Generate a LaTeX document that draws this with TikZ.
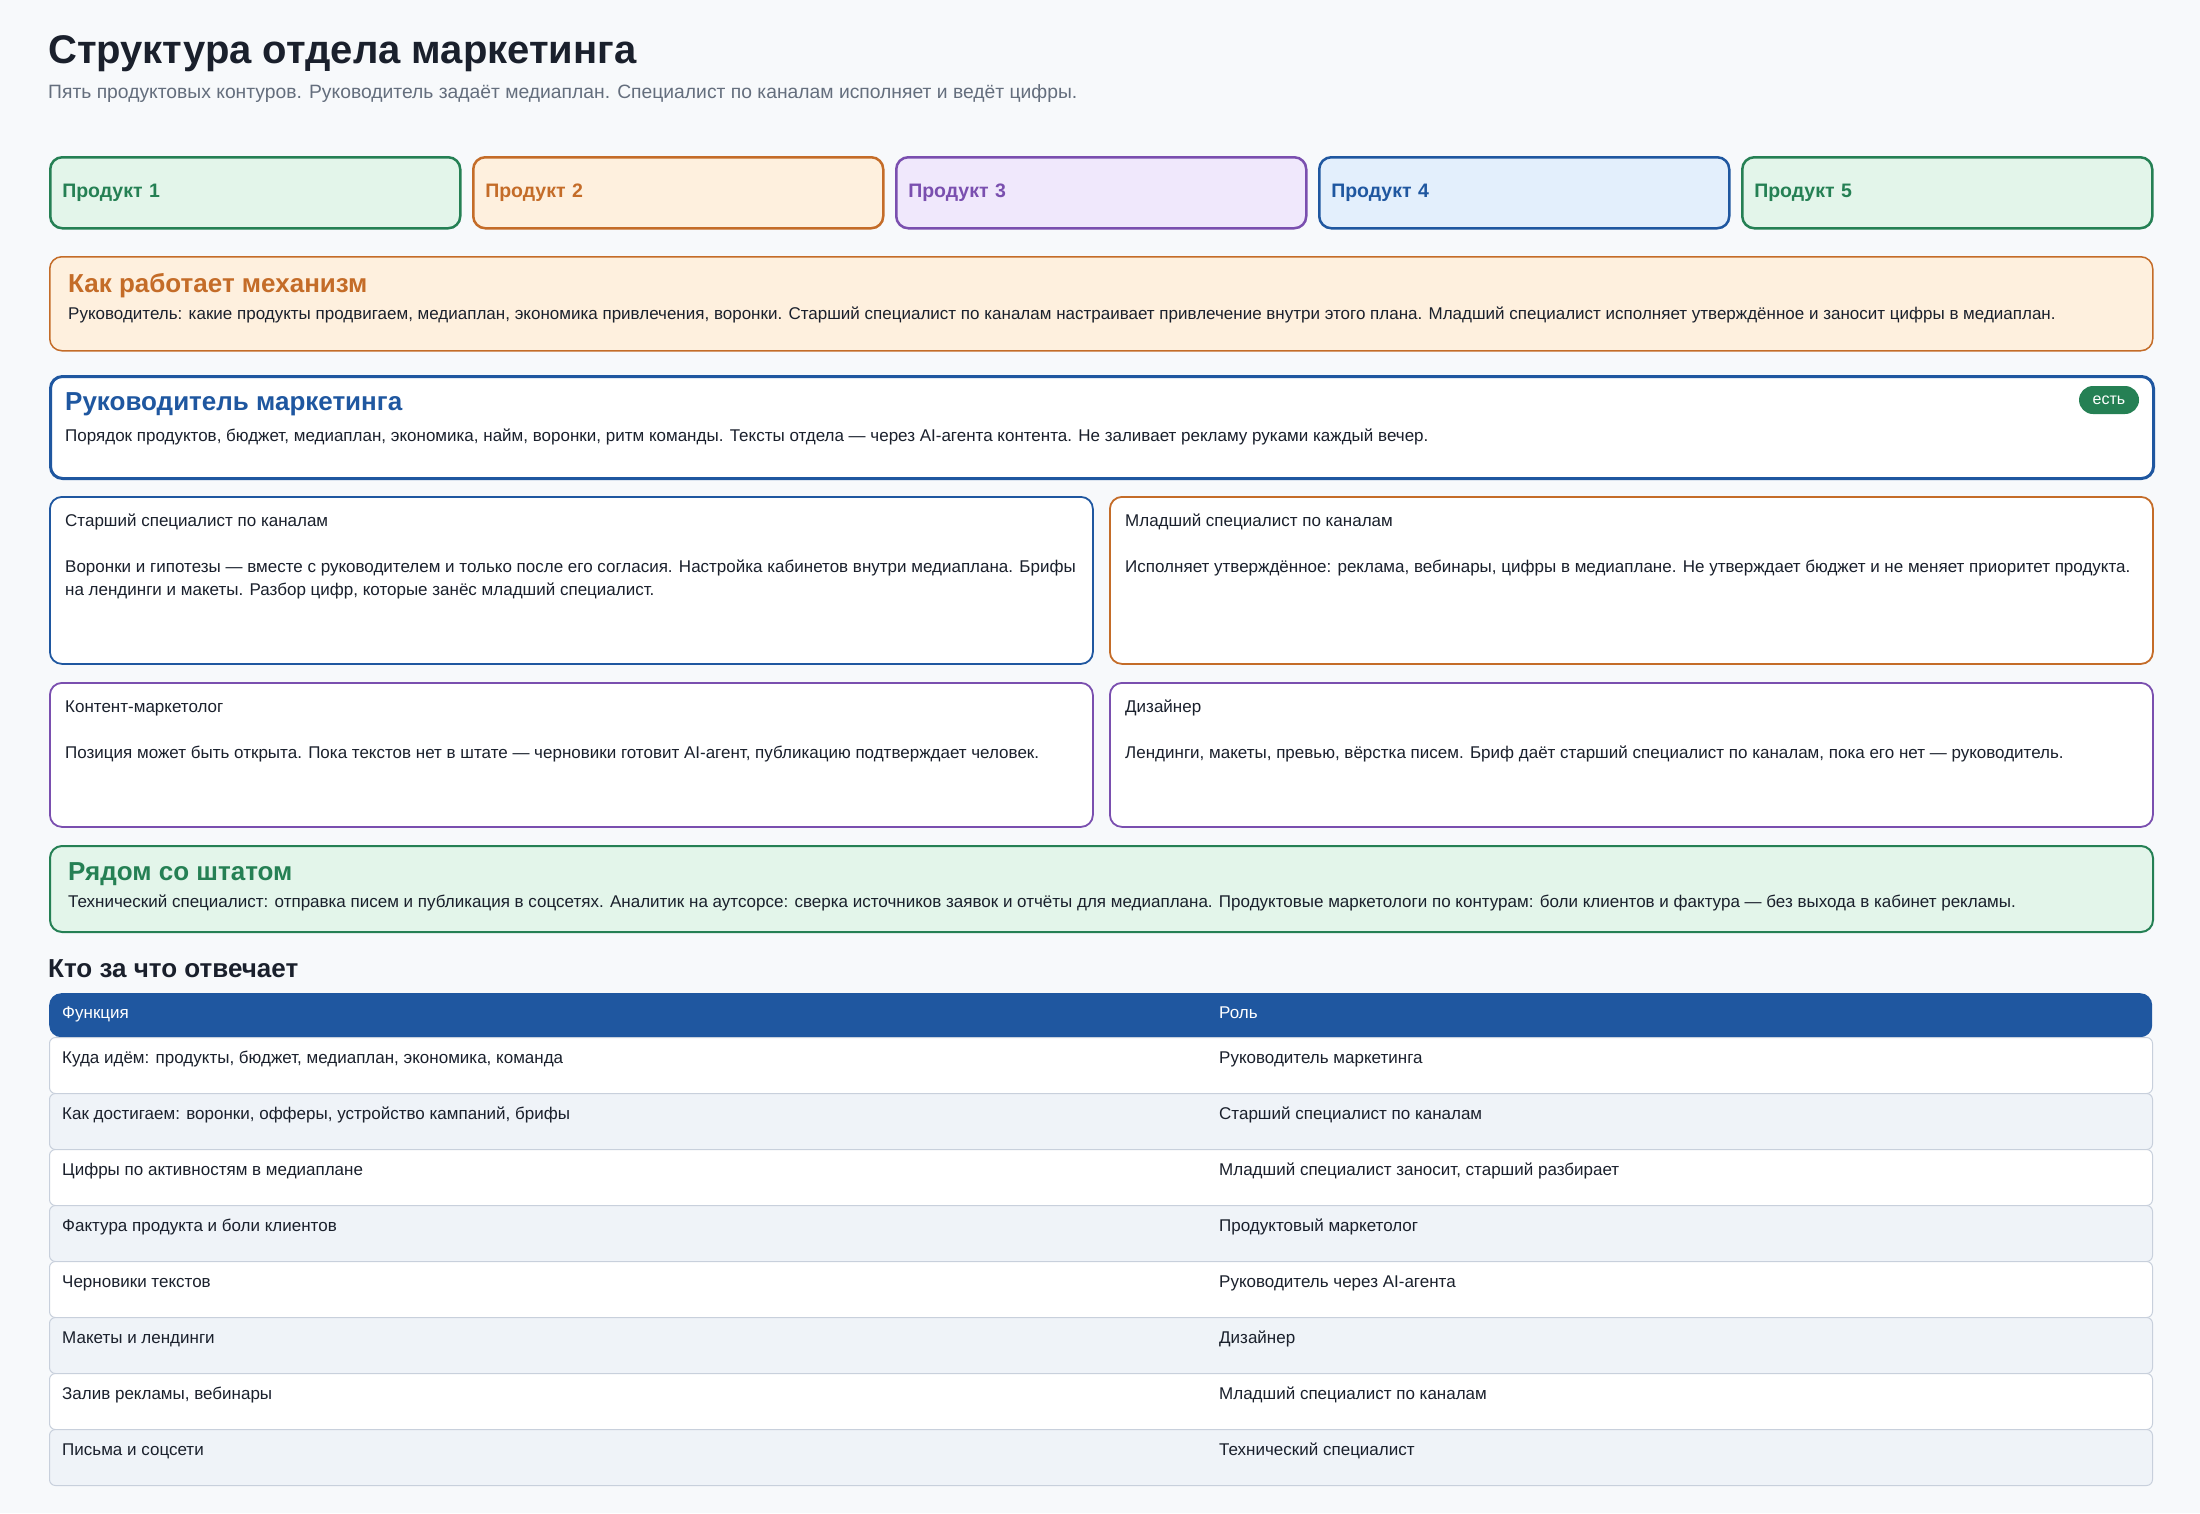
\documentclass[tikz,border=0pt]{standalone}
\usepackage{fontspec}
\setmainfont{Liberation Sans}
\usetikzlibrary{positioning}

\definecolor{pagebg}{RGB}{247,249,251}
\definecolor{ink}{RGB}{26,32,44}
\definecolor{muted}{RGB}{100,110,125}
\definecolor{mblue}{RGB}{31,87,160}
\definecolor{mbluebg}{RGB}{227,239,252}
\definecolor{mgreen}{RGB}{37,128,84}
\definecolor{mgreenbg}{RGB}{227,245,234}
\definecolor{morange}{RGB}{196,108,40}
\definecolor{morangebg}{RGB}{254,240,222}
\definecolor{mpurple}{RGB}{122,79,175}
\definecolor{mpurplebg}{RGB}{240,232,252}
\definecolor{rowalt}{RGB}{239,243,248}
\definecolor{rowline}{RGB}{200,208,220}

\tikzset{
  product/.style={draw=#1, fill=#1bg, line width=2.5pt, rounded corners=12pt,
    minimum height=71pt, inner sep=12pt, text width=386pt, align=left,
    anchor=north west, text=#1, font=\fontsize{19.5}{24}\selectfont\bfseries},
  card/.style={draw=#1, line width=2pt, rounded corners=12pt, fill=white,
    anchor=north west, inner sep=0pt},
  cardhead/.style={anchor=base west, inner sep=0pt, text=#1,
    font=\fontsize{26}{30}\selectfont\bfseries},
  cardtext/.style={anchor=base west, inner sep=0pt, text=ink, align=left,
    font=\fontsize{17}{23}\selectfont},
  badge/.style={fill=mgreen, rounded corners=14pt, minimum width=60pt,
    minimum height=28pt, inner sep=0pt, text=white, font=\fontsize{16}{19}\selectfont},
  tablerow/.style={draw=rowline, line width=1pt, rounded corners=6pt,
    minimum width=2103pt, minimum height=56pt, anchor=north west, inner sep=0pt},
  rowcell/.style={anchor=base west, inner sep=0pt, text=ink, font=\fontsize{17}{20}\selectfont}
}

\begin{document}
\begin{tikzpicture}[x=1pt, y=-1pt]

% Page
\useasboundingbox (0,0) rectangle (2200,1513);
\fill[pagebg] (0,0) rectangle (2200,1513);

% Header
\node[anchor=base west, inner sep=0pt, text=ink, font=\fontsize{40}{46}\selectfont\bfseries]
  (title) at (48,63) {Структура отдела маркетинга};
\node[anchor=base west, inner sep=0pt, text=muted, font=\fontsize{19.3}{22}\selectfont]
  (subtitle) at (48,98) {Пять продуктовых контуров. Руководитель задаёт медиаплан. Специалист по каналам исполняет и ведёт цифры.};

% Product contours
\foreach \i/\c in {1/mgreen, 2/morange, 3/mpurple, 4/mblue, 5/mgreen}
  \node[product=\c] (prod\i) at ({49+(\i-1)*423},156) {Продукт \i};

% Mechanism
\node[card=morange, fill=morangebg, line width=1.5pt, minimum width=2103pt, minimum height=94pt] (mech) at (49,256) {};
\node[cardhead=morange] (mechT) at (68,292) {Как работает механизм};
\node[cardtext] (mechB) at (68,319) {Руководитель: какие продукты продвигаем, медиаплан, экономика привлечения, воронки. Старший специалист по каналам настраивает привлечение внутри этого плана. Младший специалист исполняет утверждённое и заносит цифры в медиаплан.};

% Head of marketing
\node[card=mblue, line width=3pt, minimum width=2103pt, minimum height=102pt] (lead) at (49,375) {};
\node[cardhead=mblue] (leadT) at (65,410) {Руководитель маркетинга};
\node[cardtext] (leadB) at (65,441) {Порядок продуктов, бюджет, медиаплан, экономика, найм, воронки, ритм команды. Тексты отдела — через AI-агента контента. Не заливает рекламу руками каждый вечер.};
\node[badge] (badge) at (2109,400) {есть};

% Team
\node[card=mblue, line width=1.8pt, minimum width=1043pt, minimum height=167pt] (senior) at (49,496) {};
\node[cardtext] (seniorT) at (65,526) {Старший специалист по каналам};
% the base of a two-line node is its last line
\node[cardtext] (seniorB) at (65,595) {Воронки и гипотезы — вместе с руководителем и только после его согласия. Настройка кабинетов внутри медиаплана. Брифы\\на лендинги и макеты. Разбор цифр, которые занёс младший специалист.};

\node[card=morange, line width=1.8pt, minimum width=1043pt, minimum height=167pt] (junior) at (1109,496) {};
\node[cardtext] (juniorT) at (1125,526) {Младший специалист по каналам};
\node[cardtext] (juniorB) at (1125,572) {Исполняет утверждённое: реклама, вебинары, цифры в медиаплане. Не утверждает бюджет и не меняет приоритет продукта.};

\node[card=mpurple, line width=1.8pt, minimum width=1043pt, minimum height=144pt] (content) at (49,682) {};
\node[cardtext] (contentT) at (65,712) {Контент-маркетолог};
\node[cardtext] (contentB) at (65,758) {Позиция может быть открыта. Пока текстов нет в штате — черновики готовит AI-агент, публикацию подтверждает человек.};

\node[card=mpurple, line width=1.8pt, minimum width=1043pt, minimum height=144pt] (designer) at (1109,682) {};
\node[cardtext] (designerT) at (1125,712) {Дизайнер};
\node[cardtext] (designerB) at (1125,758) {Лендинги, макеты, превью, вёрстка писем. Бриф даёт старший специалист по каналам, пока его нет — руководитель.};

% Next to the staff
\node[card=mgreen, fill=mgreenbg, minimum width=2103pt, minimum height=86pt] (near) at (49,845) {};
\node[cardhead=mgreen] (nearT) at (68,880) {Рядом со штатом};
\node[cardtext] (nearB) at (68,907) {Технический специалист: отправка писем и публикация в соцсетях. Аналитик на аутсорсе: сверка источников заявок и отчёты для медиаплана. Продуктовые маркетологи по контурам: боли клиентов и фактура — без выхода в кабинет рекламы.};

% Responsibility table
\node[anchor=base west, inner sep=0pt, text=ink, font=\fontsize{26}{30}\selectfont\bfseries]
  (tableT) at (48,977) {Кто за что отвечает};
\node[fill=mblue, rounded corners=12pt, minimum width=2103pt, minimum height=44pt, anchor=north west, inner sep=0pt] (thead) at (49,993) {};
\node[rowcell, text=white] (headF) at (62,1018) {Функция};
\node[rowcell, text=white] (headR) at (1219,1018) {Роль};

\foreach \f/\o [count=\r] in {
  {Куда идём: продукты, бюджет, медиаплан, экономика, команда}/{Руководитель маркетинга},
  {Как достигаем: воронки, офферы, устройство кампаний, брифы}/{Старший специалист по каналам},
  {Цифры по активностям в медиаплане}/{Младший специалист заносит, старший разбирает},
  {Фактура продукта и боли клиентов}/{Продуктовый маркетолог},
  {Черновики текстов}/{Руководитель через AI-агента},
  {Макеты и лендинги}/{Дизайнер},
  {Залив рекламы, вебинары}/{Младший специалист по каналам},
  {Письма и соцсети}/{Технический специалист}} {
  \ifodd\r \def\rowfill{white}\else \def\rowfill{rowalt}\fi
  \node[tablerow, fill=\rowfill] (row\r) at (49,{1037+(\r-1)*56}) {};
  \node[rowcell] (fn\r) at (62,{1063+(\r-1)*56}) {\f};
  \node[rowcell] (role\r) at (1219,{1063+(\r-1)*56}) {\o};
}

\end{tikzpicture}
\end{document}
